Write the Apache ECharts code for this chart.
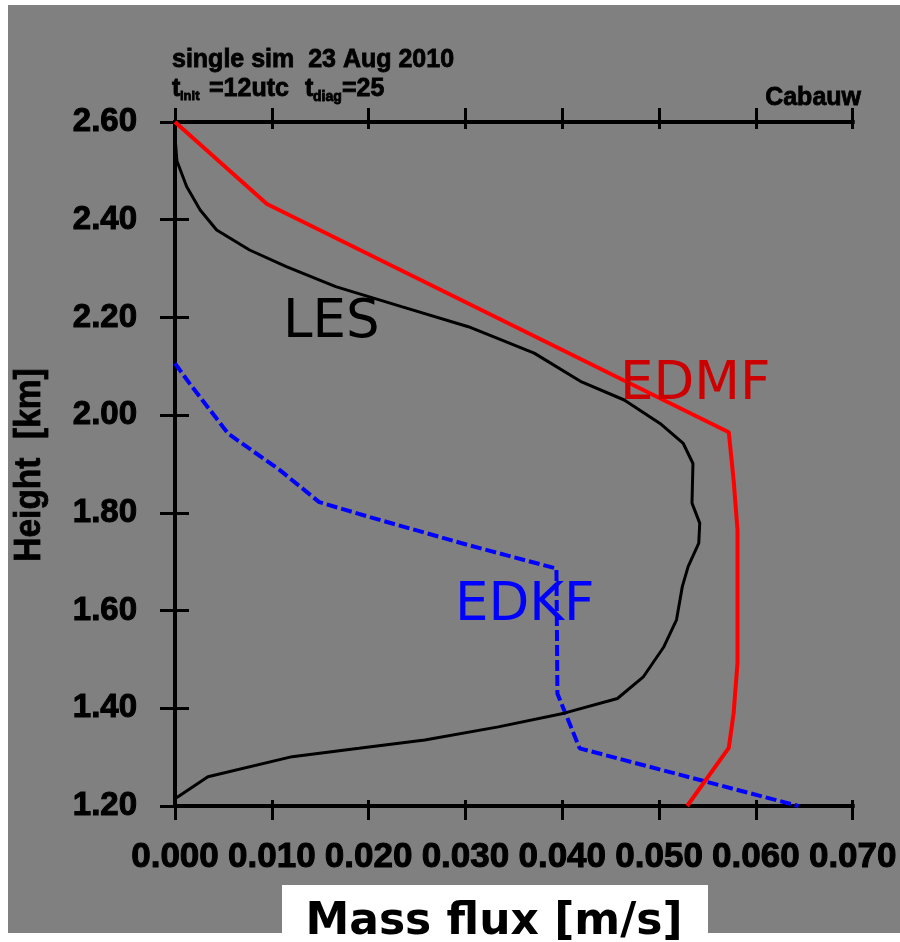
<!DOCTYPE html>
<html><head><meta charset="utf-8">
<script src="https://cdn.jsdelivr.net/npm/echarts@6/dist/echarts.min.js"></script>
<style>
html,body{margin:0;padding:0;background:#fff;width:900px;height:942px;overflow:hidden;}
#bg{position:absolute;left:8px;top:5px;width:892px;height:928px;background:#808080;}
#chart{position:absolute;left:0;top:0;width:900px;height:942px;}
</style></head><body>
<div id="bg"></div><div id="chart"></div>
<script>
// ---- data (x: mass flux m/s, y: height km) ----
const lesX = [0.0000, 0.0002, 0.0012, 0.0026, 0.0043, 0.0077, 0.0115, 0.0166, 0.0234, 0.0303, 0.0371, 0.0420, 0.0464, 0.0501, 0.0525, 0.0535, 0.0534, 0.0542, 0.0541, 0.0530, 0.0524, 0.0518, 0.0505, 0.0484, 0.0457, 0.0402, 0.0334, 0.0258, 0.0190, 0.0121, 0.0034, 0.0000];
const lesY = [2.570, 2.520, 2.468, 2.420, 2.379, 2.338, 2.304, 2.263, 2.222, 2.181, 2.127, 2.068, 2.031, 1.983, 1.942, 1.901, 1.820, 1.779, 1.738, 1.690, 1.649, 1.581, 1.526, 1.465, 1.420, 1.390, 1.362, 1.335, 1.318, 1.301, 1.260, 1.215];
const edmfX = [0.0000, 0.0095, 0.0572, 0.0577, 0.0581, 0.0581, 0.0577, 0.0572, 0.0529];
const edmfY = [2.600, 2.432, 1.965, 1.867, 1.765, 1.493, 1.390, 1.319, 1.200];
const edkfX = [0.0000, 0.0015, 0.0055, 0.0108, 0.0149, 0.0200, 0.0303, 0.0394, 0.0395, 0.0418, 0.0644];
const edkfY = [2.106, 2.065, 1.962, 1.888, 1.822, 1.792, 1.734, 1.686, 1.430, 1.318, 1.200];

const xMin = 0, xMax = 0.07, xStep = 0.01;
const yMin = 1.2, yMax = 2.6, yStep = 0.2;
const xTickLabels = ['0.000','0.010','0.020','0.030','0.040','0.050','0.060','0.070'];
const yTickLabels = ['1.20','1.40','1.60','1.80','2.00','2.20','2.40','2.60'];

const pair = (xs, ys) => xs.map((x, i) => [x, ys[i]]);
const LF = 'Liberation Sans';
const lineSt = {color:'#000', width:4, cap:'square'};

function xAx(pos, inside, len, showLine, showLabel) {
  return {
    type:'value', position:pos, min:xMin, max:xMax, interval:xStep,
    axisLine:{show:showLine, lineStyle:lineSt},
    axisTick:{show:true, inside:inside, length:len, lineStyle:{color:'#000', width:3}},
    axisLabel:{show:showLabel, margin:34, color:'#000', fontFamily:LF, fontWeight:'bold', fontSize:35,
      textBorderColor:'#000', textBorderWidth:1,
      formatter:(v)=>xTickLabels[Math.round((v-xMin)/xStep)]},
    splitLine:{show:false}
  };
}
function yAx(pos, inside, len, showLine, showLabel) {
  return {
    type:'value', position:pos, min:yMin, max:yMax, interval:yStep,
    axisLine:{show:showLine, lineStyle:lineSt},
    axisTick:{show:true, inside:inside, length:len, lineStyle:{color:'#000', width:3}},
    axisLabel:{show:showLabel, margin:38, color:'#000', fontFamily:LF, fontWeight:'bold', fontSize:33,
      textBorderColor:'#000', textBorderWidth:1,
      formatter:(v)=>yTickLabels[Math.round((v-yMin)/yStep)]},
    splitLine:{show:false}
  };
}
const tStyle = (text, size, align) => ({text:text, font:'bold ' + size + 'px "Liberation Sans"', fill:'#000',
  stroke:'#000', lineWidth:0.8, align:align || 'left', verticalAlign:'middle'});

const chart = echarts.init(document.getElementById('chart'), null, {renderer:'canvas'});
chart.setOption({
  backgroundColor:'transparent',
  animation:false,
  grid:{left:175, top:122, right:43, bottom:136, containLabel:false},
  xAxis:[xAx('bottom',false,14,true,true), xAx('bottom',true,6,false,false),
         xAx('top',false,14,true,false), xAx('top',true,7,false,false)],
  yAxis:[yAx('left',false,15,true,true), yAx('left',true,6,false,false),
         yAx('right',false,14,true,false), yAx('right',true,7,false,false)],
  series:[
    {type:'line', name:'EDKF', data:pair(edkfX, edkfY), showSymbol:false, symbol:'none', z:3,
     lineStyle:{color:'#0000ff', width:4, type:[11,4]}},
    {type:'line', name:'LES', data:pair(lesX, lesY), showSymbol:false, symbol:'none', z:4,
     lineStyle:{color:'#000000', width:3}},
    {type:'line', name:'EDMF', data:pair(edmfX, edmfY), showSymbol:false, symbol:'none', z:5,
     lineStyle:{color:'#ff0000', width:4}}
  ],
  graphic:[
    {type:'text', x:172, y:60, style:tStyle('single sim  23 Aug 2010', 25)},
    {type:'text', x:172, y:89, style:tStyle('t', 25)},
    {type:'text', x:180, y:96, style:tStyle('init', 13)},
    {type:'text', x:209, y:89, style:tStyle('=12utc', 25)},
    {type:'text', x:305, y:89, style:tStyle('t', 25)},
    {type:'text', x:313, y:97, style:tStyle('diag', 14)},
    {type:'text', x:342, y:89, style:tStyle('=25', 25)},
    {type:'text', x:861, y:98, style:tStyle('Cabauw', 25, 'right')},
    {type:'text', x:30, y:465, rotation:Math.PI/2, scaleX:0.93,
     style:tStyle('Height  [km]', 36, 'center')},
    {type:'text', x:283, y:323, z:10, style:{text:'LES', font:'53px "DejaVu Sans"', fill:'#000', align:'left', verticalAlign:'middle'}},
    {type:'text', x:620, y:385, z:10, style:{text:'EDMF', font:'53px "DejaVu Sans"', fill:'#cc0000', align:'left', verticalAlign:'middle'}},
    {type:'text', x:455, y:606, z:10, style:{text:'EDKF', font:'53px "DejaVu Sans"', fill:'#0000ff', align:'left', verticalAlign:'middle'}},
    {type:'rect', shape:{x:282, y:885, width:426, height:57}, style:{fill:'#ffffff'}, z:10},
    {type:'text', x:494, y:923, z:11, style:{text:'Mass flux [m/s]', font:'bold 44px "DejaVu Sans"', fill:'#000', align:'center', verticalAlign:'middle'}}
  ]
});
</script>
</body></html>
